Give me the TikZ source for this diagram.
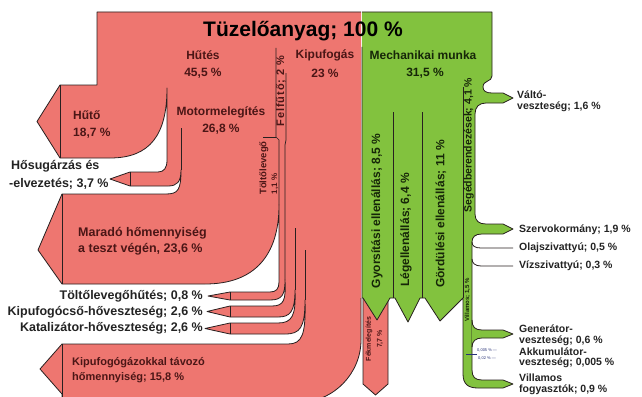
\documentclass[tikz,border=0pt]{standalone}
\usepackage{fontspec}
\setmainfont{Liberation Sans}
\definecolor{rf}{RGB}{238,118,112}
\definecolor{gf}{RGB}{130,194,62}
\definecolor{lc}{RGB}{40,32,32}
\definecolor{tr}{RGB}{75,22,22}
\definecolor{tg}{RGB}{22,38,8}
\definecolor{tk}{RGB}{35,35,35}
\definecolor{ak}{RGB}{40,50,120}
\tikzset{
  outl/.style={draw=lc, line width=0.8pt, line join=round},
  sep/.style={draw=lc, line width=0.7pt},
  lab/.style={inner sep=0pt, font=\bfseries\fontsize{#1}{#1}\selectfont},
}
\begin{document}
\begin{tikzpicture}[x=1pt,y=-1pt]
\useasboundingbox (0,0) rectangle (642,396);
\fill[white] (0,0) rectangle (642,396);
\clip (0,0) rectangle (642,396);

% ---------- red region ----------
\fill[rf] (97,12) -- (361,12) -- (361,340) .. controls (361,373) and (334,402) .. (300,402)
  -- (62,402) -- (62,394) -- (40,369) -- (62,344) -- (288,344)
  .. controls (302,344) and (306,335) .. (305,300)
  .. controls (305,328) and (300,334) .. (285,334) -- (230,334) -- (205,328.5) -- (230,323) -- (278,323)
  .. controls (292,323) and (296,316) .. (295,290)
  .. controls (295,312) and (290,317) .. (278,317) -- (230,317) -- (207,311.5) -- (230,306) -- (272,306)
  .. controls (284,306) and (286,300) .. (285,280)
  .. controls (285,295) and (282,300) .. (270,300) -- (230,300) -- (208,296) -- (230,292) -- (270,292)
  .. controls (276,292) and (279,289) .. (279,282) -- (279,205)
  .. controls (279,255) and (255,284) .. (205,284) -- (62,284) -- (38,250) -- (62,194) -- (166,194)
  .. controls (178,194) and (181,190) .. (181,170)
  .. controls (181,182) and (177,186) .. (168,186) -- (130,186) -- (110,179) -- (130,172) -- (158,172)
  .. controls (164,172) and (167,168) .. (167,160) -- (167,88)
  .. controls (167,135) and (150,158) .. (110,158) -- (60,158) -- (37,121.5) -- (60,85) -- (97,85) -- cycle;
\draw[outl] (361,298) -- (361,340) .. controls (361,373) and (334,402) .. (300,402)
  -- (62,402) -- (62,394) -- (40,369) -- (62,344) -- (288,344)
  .. controls (302,344) and (306,335) .. (305,300)
  .. controls (305,328) and (300,334) .. (285,334) -- (230,334) -- (205,328.5) -- (230,323) -- (278,323)
  .. controls (292,323) and (296,316) .. (295,290)
  .. controls (295,312) and (290,317) .. (278,317) -- (230,317) -- (207,311.5) -- (230,306) -- (272,306)
  .. controls (284,306) and (286,300) .. (285,280)
  .. controls (285,295) and (282,300) .. (270,300) -- (230,300) -- (208,296) -- (230,292) -- (270,292)
  .. controls (276,292) and (279,289) .. (279,282) -- (279,205)
  .. controls (279,255) and (255,284) .. (205,284) -- (62,284) -- (38,250) -- (62,194) -- (166,194)
  .. controls (178,194) and (181,190) .. (181,170)
  .. controls (181,182) and (177,186) .. (168,186) -- (130,186) -- (110,179) -- (130,172) -- (158,172)
  .. controls (164,172) and (167,168) .. (167,160) -- (167,88)
  .. controls (167,135) and (150,158) .. (110,158) -- (60,158) -- (37,121.5) -- (60,85) -- (97,85)
  -- (97,12) -- (361,12);
% arrow-head separators and internal lines (red)
\draw[sep] (60,85) -- (60,158);
\draw[sep] (130,172) -- (130,186);
\draw[sep] (62,194) -- (62,284);
\draw[sep] (230,292) -- (230,300);
\draw[sep] (230,306) -- (230,317);
\draw[sep] (230,323) -- (230,334);
\draw[sep] (62,344) -- (62,402);
\draw[sep] (181,128) -- (181,170);
\draw[sep] (276,48) -- (276,137) -- (279,140) -- (279,205);
\draw[sep] (263,137) -- (276,137);
\draw[sep] (286,73) -- (286,140) -- (285,145) -- (285,280);
\draw[sep] (295,228) -- (295,290);
\draw[sep] (305,250) -- (305,300);

% brake strip
\draw[outl, fill=rf] (363,296) -- (388,296) -- (388,384) -- (375.5,395) -- (363,384) -- cycle;

% ---------- green region ----------
\fill[gf] (362,12) -- (492,12) -- (492,76) .. controls (492,82) and (483,80) .. (483,87)
  .. controls (483,91) and (486,93) .. (492,93) -- (503,93) -- (513,98) -- (503,103) -- (486,103)
  .. controls (479,103) and (475,107) .. (475,114) -- (475,214)
  .. controls (475,221) and (479,224) .. (486,224) -- (503,224) -- (513,229) -- (503,234) -- (482,234)
  .. controls (475,234) and (472,237) .. (472,242) -- (472,370)
  .. controls (472,377) and (475,380) .. (482,380) -- (503,380) -- (513,384) -- (503,388) -- (478,388)
  .. controls (468,388) and (463,384) .. (463,374) -- (463,298) -- (440,321) -- (425,298) -- (420,298)
  -- (408,322) -- (395,298) -- (390,298) -- (377,320) -- (363,298) -- (362,298) -- cycle;
\draw[outl] (362,12) -- (492,12) -- (492,76) .. controls (492,82) and (483,80) .. (483,87)
  .. controls (483,91) and (486,93) .. (492,93) -- (503,93) -- (513,98) -- (503,103) -- (486,103)
  .. controls (479,103) and (475,107) .. (475,114) -- (475,214)
  .. controls (475,221) and (479,224) .. (486,224) -- (503,224) -- (513,229) -- (503,234) -- (482,234)
  .. controls (475,234) and (472,237) .. (472,242) -- (472,370)
  .. controls (472,377) and (475,380) .. (482,380) -- (503,380) -- (513,384) -- (503,388) -- (478,388)
  .. controls (468,388) and (463,384) .. (463,374) -- (463,298) -- (440,321) -- (425,298) -- (420,298)
  -- (408,322) -- (395,298) -- (390,298) -- (377,320) -- (363,298) -- (362,298) -- (362,47);
\draw[sep] (393,112) -- (393,298);
\draw[sep] (422,112) -- (422,298);
\draw[sep] (463,87) -- (463,298);
% pumps
\draw[outl] (472,242) .. controls (472,246) and (475,248) .. (481,248) -- (513,248);
\draw[outl] (472,259) .. controls (472,263) and (475,266) .. (481,266) -- (513,266);
% generator loss arrow
\fill[gf] (472,320) .. controls (472,327) and (475,330) .. (482,330) -- (503,330) -- (513,334) -- (503,338)
  -- (482,338) .. controls (476,338) and (472,341) .. (472,347) -- cycle;
\draw[outl] (472,320) .. controls (472,327) and (475,330) .. (482,330) -- (503,330) -- (513,334) -- (503,338)
  -- (482,338) .. controls (476,338) and (472,341) .. (472,347);
% battery loss
\draw[ak, line width=1pt] (466,354) -- (477,354);

% ---------- texts ----------
\node[lab=21, text=black] (title) at (303,31) {Tüzelőanyag; 100 \%};
\node[lab=12, text=tr] (hutes) at (203,55) {Hűtés};
\node[lab=12, text=tr] (hutesp) at (203,73) {45,5 \%};
\node[lab=12, text=tr, anchor=west] (huto) at (73,115) {Hűtő};
\node[lab=12, text=tr, anchor=west] (hutop) at (73,133) {18,7 \%};
\node[lab=12, text=tr] (motor) at (221,112) {Motormelegítés};
\node[lab=12, text=tr] (motorp) at (221,129) {26,8 \%};
\node[lab=12, text=tr] (kipuf) at (325,55) {Kipufogás};
\node[lab=12, text=tr] (kipufp) at (325,73) {23 \%};
\node[lab=12, text=tg] (mech) at (423,55) {Mechanikai munka};
\node[lab=12, text=tg] (mechp) at (425,73) {31,5 \%};
\node[lab=12.5, text=tk, anchor=west] (hosug1) at (11,166) {Hősugárzás és};
\node[lab=12.5, text=tk, anchor=west] (hosug2) at (9,184) {-elvezetés; 3,7 \%};
\node[lab=12.5, text=tr, anchor=west] (marado1) at (78,233) {Maradó hőmennyiség};
\node[lab=12.5, text=tr, anchor=west] (marado2) at (78,249) {a teszt végén, 23,6 \%};
\node[lab=12.5, text=tk, anchor=east] (tlh) at (203,296) {Töltőlevegőhűtés; 0,8 \%};
\node[lab=12.5, text=tk, anchor=east] (kcs) at (203,312) {Kipufogócső-hőveszteség; 2,6 \%};
\node[lab=12.5, text=tk, anchor=east] (kat) at (203,328) {Katalizátor-hőveszteség; 2,6 \%};
\node[lab=11, text=tr, anchor=west] (kgt1) at (72,363) {Kipufogógázokkal távozó};
\node[lab=11, text=tr, anchor=west] (kgt2) at (72,378) {hőmennyiség; 15,8 \%};

\node[lab=10.5, text=tk, anchor=west] (valto1) at (517,95) {Váltó-};
\node[lab=10.5, text=tk, anchor=west] (valto2) at (517,107) {veszteség; 1,6 \%};
\node[lab=10.5, text=tk, anchor=west] (szervo) at (519,230) {Szervokormány; 1,9 \%};
\node[lab=10.5, text=tk, anchor=west] (olaj) at (519,248) {Olajszivattyú; 0,5 \%};
\node[lab=10.5, text=tk, anchor=west] (viz) at (519,266) {Vízszivattyú; 0,3 \%};
\node[lab=10.5, text=tk, anchor=west] (gen1) at (519,329) {Generátor-};
\node[lab=10.5, text=tk, anchor=west] (gen2) at (519,341) {veszteség; 0,6 \%};
\node[lab=10.5, text=tk, anchor=west] (akk1) at (519,352) {Akkumulátor-};
\node[lab=10.5, text=tk, anchor=west] (akk2) at (519,363) {veszteség; 0,005 \%};
\node[lab=10.5, text=tk, anchor=west] (vf1) at (519,378) {Villamos};
\node[lab=10.5, text=tk, anchor=west] (vf2) at (519,390) {fogyasztók; 0,9 \%};
\node[inner sep=0pt, font=\fontsize{4}{4}\selectfont, text=ak, anchor=west] (ak1) at (477,350) {0,005 \% —};
\node[inner sep=0pt, font=\fontsize{4}{4}\selectfont, text=ak, anchor=west] (ak2) at (478,358.5) {0,02 \% —};

\node[lab=12, text=tg, rotate=90] (gyors) at (377,211) {Gyorsítási ellenállás; 8,5 \%};
\node[lab=12, text=tg, rotate=90] (leg) at (406,230) {Légellenállás; 6,4 \%};
\node[lab=12, text=tg, rotate=90] (gord) at (441,214) {Gördülési ellenállás; 11 \%};
\node[lab=10.5, text=tg, rotate=90] (seged) at (469,145) {Segédberendezések; 4,1 \%};
\node[lab=6, text=tg, rotate=90] (vill) at (467.5,300) {Villamos; 1,5 \%};
\node[inner sep=0pt, font=\bfseries\fontsize{11}{11}\selectfont\addfontfeature{LetterSpace=8}, text=tr, rotate=90] (felf) at (281,91) {Felfűtő; 2 \%};
\node[lab=9.5, text=tr, rotate=90] (tolt1) at (264,168) {Töltőlevegő};
\node[lab=8, text=tr, rotate=90] (tolt2) at (275,184) {1,1 \%};
\node[lab=7, text=tr, rotate=90] (fek1) at (369,339) {Fékmelegítés};
\node[lab=7, text=tr, rotate=90] (fek2) at (380,339) {7,7 \%};
\end{tikzpicture}
\end{document}
